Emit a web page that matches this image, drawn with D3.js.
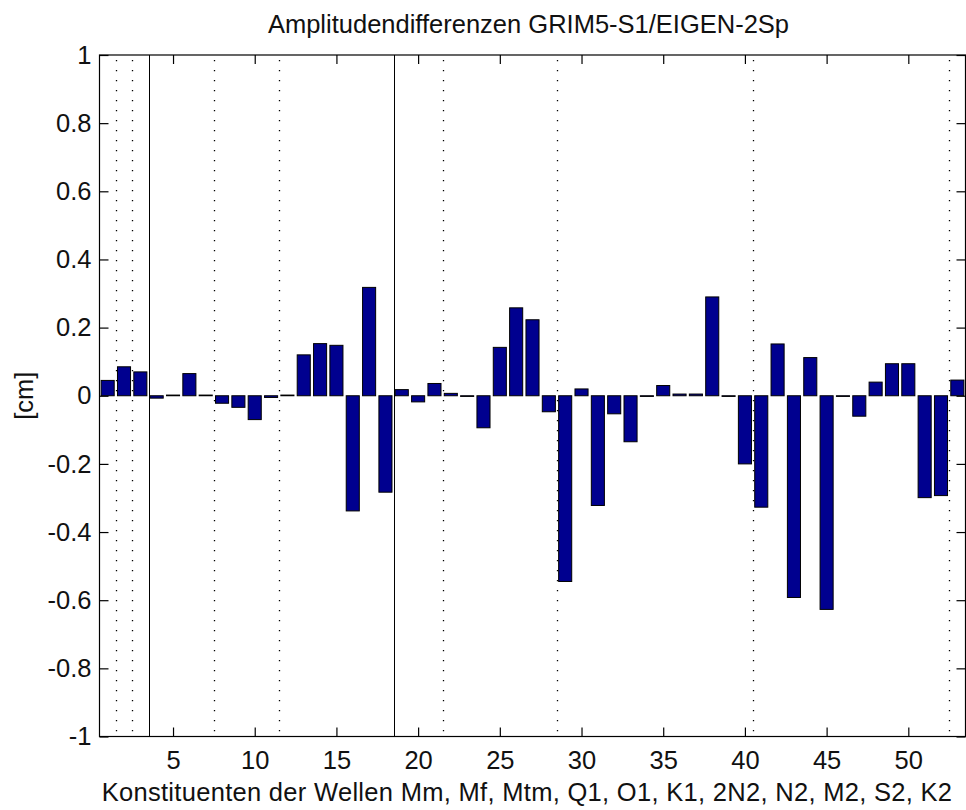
<!DOCTYPE html>
<html>
<head>
<meta charset="utf-8">
<script src="https://cdn.jsdelivr.net/npm/d3@7"></script>
<style>
  body { margin: 0; background: #fff; }
  svg { display: block; font-family: "Liberation Sans", Arial, sans-serif; }
</style>
</head>
<body>
<div id="bar-chart"></div>
<script>
// Data
const constituents = d3.range(1, 54);
const amplitudeDiff = [
  0.045, 0.085, 0.07, -0.007, 0.002, 0.065, 0.002, -0.022, -0.034, -0.07,
  -0.005, 0.002, 0.12, 0.153, 0.148, -0.338, 0.318, -0.283, 0.018, -0.018,
  0.036, 0.007, -0.002, -0.094, 0.142, 0.258, 0.223, -0.047, -0.545, 0.02,
  -0.322, -0.053, -0.135, -0.002, 0.03, 0.005, 0.005, 0.29, -0.002, -0.2,
  -0.327, 0.152, -0.592, 0.112, -0.627, -0.002, -0.06, 0.04, 0.094, 0.094,
  -0.299, -0.293, 0.046
];
const solidSeparators = [3.5, 18.5];
const dottedSeparators = [1.5, 2.5, 7.5, 11.5, 21.5, 28.5, 40.5, 52.5];
const xTicks = [5, 10, 15, 20, 25, 30, 35, 40, 45, 50];
const xTickLabels = ["5", "10", "15", "20", "25", "30", "35", "40", "45", "50"];
const yTicks = [-1, -0.8, -0.6, -0.4, -0.2, 0, 0.2, 0.4, 0.6, 0.8, 1];
const yTickLabels = ["-1", "-0.8", "-0.6", "-0.4", "-0.2", "0", "0.2", "0.4", "0.6", "0.8", "1"];
const chartTitle = "Amplitudendifferenzen GRIM5-S1/EIGEN-2Sp";
const xLabel = "Konstituenten der Wellen Mm, Mf, Mtm, Q1, O1, K1, 2N2, N2, M2, S2, K2";
const yLabel = "[cm]";

const drawBarChart = () => {

  /*******************************/
  /*    Declare the constants    */
  /*******************************/
  const width = 966;
  const height = 810;
  const plot = {left: 99.5, right: 965.5, top: 55, bottom: 736.5};
  const barFill = "#00008f";
  const fontSize = 25.5;
  const tickLen = 9;

  /*******************************/
  /*    Append the containers    */
  /*******************************/
  const svg = d3.select("#bar-chart")
    .append("svg")
      .attr("width", width)
      .attr("height", height)
      .attr("viewBox", `0, 0, ${width}, ${height}`);

  /****************************/
  /*    Declare the scales    */
  /****************************/
  const xScale = d3.scaleLinear()
    .domain([0.5, 53.5])
    .range([plot.left, plot.right]);

  const yScale = d3.scaleLinear()
    .domain([-1, 1])
    .range([plot.bottom, plot.top]);

  /**************************/
  /*    Append the bars     */
  /**************************/
  const data = constituents.map((c, i) => ({id: c, value: amplitudeDiff[i]}));

  svg
    .append("g")
    .selectAll("rect")
    .data(data)
    .join("rect")
      .attr("x", d => xScale(d.id - 0.4))
      .attr("y", d => yScale(Math.max(d.value, 0)))
      .attr("width", d => xScale(d.id + 0.4) - xScale(d.id - 0.4))
      .attr("height", d => Math.abs(yScale(d.value) - yScale(0)))
      .attr("fill", barFill)
      .attr("stroke", "black")
      .attr("stroke-width", 1);

  /**************************/
  /*   Separator lines      */
  /**************************/
  svg
    .append("g")
    .selectAll("line")
    .data(dottedSeparators)
    .join("line")
      .attr("x1", d => Math.round(xScale(d)) + 0.5)
      .attr("x2", d => Math.round(xScale(d)) + 0.5)
      .attr("y1", plot.top + 5)
      .attr("y2", plot.bottom)
      .attr("stroke", "black")
      .attr("stroke-width", 1.3)
      .attr("stroke-dasharray", "1.3,8.7");

  svg
    .append("g")
    .selectAll("line")
    .data(solidSeparators)
    .join("line")
      .attr("x1", d => Math.round(xScale(d)) + 0.5)
      .attr("x2", d => Math.round(xScale(d)) + 0.5)
      .attr("y1", plot.top)
      .attr("y2", plot.bottom)
      .attr("stroke", "black")
      .attr("stroke-width", 1);

  /**************************/
  /*      Add the axes      */
  /**************************/
  const bottomAxis = d3.axisBottom(xScale)
    .tickValues(xTicks)
    .tickFormat((d, i) => xTickLabels[i])
    .tickSize(-tickLen)
    .tickPadding(14);
  const topAxis = d3.axisTop(xScale)
    .tickValues(xTicks)
    .tickFormat("")
    .tickSize(-tickLen);
  const leftAxis = d3.axisLeft(yScale)
    .tickValues(yTicks)
    .tickFormat((d, i) => yTickLabels[i])
    .tickSize(-tickLen)
    .tickPadding(8);
  const rightAxis = d3.axisRight(yScale)
    .tickValues(yTicks)
    .tickFormat("")
    .tickSize(-tickLen);

  const axes = [
    [bottomAxis, `translate(0, ${plot.bottom})`],
    [topAxis, `translate(0, ${plot.top})`],
    [leftAxis, `translate(${plot.left}, 0)`],
    [rightAxis, `translate(${plot.right}, 0)`]
  ];
  axes.forEach(([axis, transform]) => {
    const g = svg
      .append("g")
        .attr("transform", transform)
        .call(axis);
    g.select(".domain").remove();
    g.selectAll("line").attr("stroke", "black").attr("stroke-width", 1.2);
    g.selectAll("text")
      .attr("fill", "#111")
      .style("font-size", `${fontSize}px`)
      .style("font-family", "'Liberation Sans', Arial, sans-serif");
  });

  // Box around the plot
  svg
    .append("rect")
      .attr("x", plot.left)
      .attr("y", plot.top)
      .attr("width", plot.right - plot.left)
      .attr("height", plot.bottom - plot.top)
      .attr("fill", "none")
      .attr("stroke", "black")
      .attr("stroke-width", 1.2);

  /**************************/
  /*       The labels       */
  /**************************/
  svg
    .append("text")
      .text(chartTitle)
      .attr("x", 528.5)
      .attr("y", 33)
      .attr("text-anchor", "middle")
      .attr("fill", "#111")
      .style("font-size", `${fontSize}px`);

  svg
    .append("text")
      .text(xLabel)
      .attr("x", 527)
      .attr("y", 801)
      .attr("text-anchor", "middle")
      .attr("fill", "#111")
      .style("letter-spacing", "0.3px")
      .style("font-size", `${fontSize}px`);

  svg
    .append("text")
      .text(yLabel)
      .attr("transform", `translate(33, ${yScale(0)}) rotate(-90)`)
      .attr("text-anchor", "middle")
      .attr("fill", "#111")
      .style("font-size", `${fontSize}px`);
};

drawBarChart();
</script>
</body>
</html>
